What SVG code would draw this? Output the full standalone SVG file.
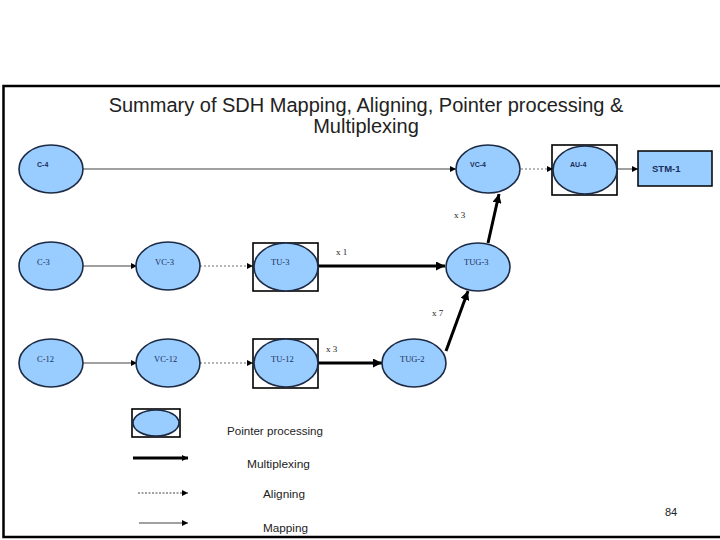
<svg xmlns="http://www.w3.org/2000/svg" width="720" height="540" viewBox="0 0 720 540">
<style>
.node{fill:#99ccff;stroke:#1c2a44;stroke-width:1.6}
.box{fill:none;stroke:#000;stroke-width:1.6}
.lblS{font-family:"Liberation Sans",Arial,sans-serif;font-size:7px;font-weight:bold;fill:#1a2f5a}
.lblT{font-family:"Liberation Serif","Times New Roman",serif;font-size:8.5px;fill:#1a2f5a}
.map{stroke:#a0a0a0;stroke-width:2;fill:none}
.aln{stroke:#a0a0a0;stroke-width:1.5;stroke-dasharray:2 2;fill:none}
.mux{stroke:#000;stroke-width:3;fill:none}
.mul{font-family:"Liberation Serif","Times New Roman",serif;font-size:9px;fill:#222}
.leg{font-family:"Liberation Sans",Arial,sans-serif;font-size:10.5px;fill:#222}
</style>
<defs>
<marker id="ah" viewBox="0 0 10 10" refX="10" refY="5" markerWidth="6" markerHeight="6" markerUnits="userSpaceOnUse" orient="auto"><path d="M0,0 L10,5 L0,10 z" fill="#000"/></marker>
<marker id="ahB" viewBox="0 0 10 10" refX="10" refY="5" markerWidth="9" markerHeight="9" markerUnits="userSpaceOnUse" orient="auto"><path d="M0,0 L10,5 L0,10 z" fill="#000"/></marker>
</defs>
<rect x="0" y="0" width="720" height="540" fill="#fff"/>
<path d="M724,86 H3.5 V537 H724" fill="none" stroke="#000" stroke-width="2.5"/>
<text x="366" y="112" text-anchor="middle" font-family="Liberation Sans,Arial,sans-serif" font-size="20" fill="#222">Summary of SDH Mapping, Aligning, Pointer processing &amp;</text>
<text x="366" y="133" text-anchor="middle" font-family="Liberation Sans,Arial,sans-serif" font-size="20" fill="#222">Multiplexing</text>

<g id="connectors">
<line class="map" x1="83" y1="169" x2="456" y2="169" marker-end="url(#ah)"/>
<line class="aln" x1="521" y1="169" x2="553" y2="169" marker-end="url(#ah)"/>
<line class="map" x1="617" y1="169" x2="638" y2="169" marker-end="url(#ah)"/>
<line class="map" x1="83" y1="266" x2="137" y2="266" marker-end="url(#ah)"/>
<line class="aln" x1="200" y1="266" x2="253" y2="266" marker-end="url(#ah)"/>
<line class="mux" x1="318" y1="266" x2="445" y2="266" marker-end="url(#ahB)"/>
<line class="mux" x1="488" y1="243" x2="499" y2="194" marker-end="url(#ahB)"/>
<line class="map" x1="83" y1="363" x2="137" y2="363" marker-end="url(#ah)"/>
<line class="aln" x1="200" y1="363" x2="253" y2="363" marker-end="url(#ah)"/>
<line class="mux" x1="318" y1="363" x2="382" y2="363" marker-end="url(#ahB)"/>
<line class="mux" x1="446" y1="351" x2="468" y2="291" marker-end="url(#ahB)"/>
<text class="mul" x="336" y="255">x 1</text>
<text class="mul" x="454" y="218">x 3</text>
<text class="mul" x="326" y="352">x 3</text>
<text class="mul" x="432" y="316">x 7</text>
</g>

<g id="C-4"><ellipse class="node" cx="51" cy="169" rx="32" ry="24"/><text class="lblS" x="37" y="167">C-4</text></g>
<g id="VC-4"><ellipse class="node" cx="488" cy="169" rx="32" ry="24"/><text class="lblS" x="470" y="167">VC-4</text></g>
<g id="AU-4"><rect class="box" x="552" y="145" width="65" height="50"/><ellipse class="node" cx="585" cy="170" rx="32" ry="24"/><text class="lblS" x="570" y="167">AU-4</text></g>
<g id="STM-1"><rect x="638" y="151" width="74" height="35" fill="#99ccff" stroke="#000" stroke-width="1.5"/><text class="lblS" x="652" y="172" style="font-size:9.5px">STM-1</text></g>

<g id="C-3"><ellipse class="node" cx="51" cy="266" rx="32" ry="24"/><text class="lblT" x="37" y="265">C-3</text></g>
<g id="VC-3"><ellipse class="node" cx="168" cy="266" rx="32" ry="24"/><text class="lblT" x="155" y="265">VC-3</text></g>
<g id="TU-3"><rect class="box" x="253" y="243" width="65" height="48"/><ellipse class="node" cx="286" cy="267" rx="32" ry="24"/><text class="lblT" x="271" y="265">TU-3</text></g>
<g id="TUG-3"><ellipse class="node" cx="478" cy="267" rx="32" ry="24"/><text class="lblT" x="464" y="265">TUG-3</text></g>

<g id="C-12"><ellipse class="node" cx="51" cy="363" rx="32" ry="24"/><text class="lblT" x="37" y="362">C-12</text></g>
<g id="VC-12"><ellipse class="node" cx="168" cy="363" rx="32" ry="24"/><text class="lblT" x="154" y="362">VC-12</text></g>
<g id="TU-12"><rect class="box" x="253" y="339" width="65" height="49"/><ellipse class="node" cx="286" cy="363" rx="32" ry="24"/><text class="lblT" x="271" y="362">TU-12</text></g>
<g id="TUG-2"><ellipse class="node" cx="414" cy="363" rx="32" ry="24"/><text class="lblT" x="400" y="362">TUG-2</text></g>

<g id="legend">
<rect class="box" x="132" y="409" width="48" height="28"/>
<ellipse class="node" cx="156" cy="423" rx="23" ry="13"/>
<text class="leg" x="227" y="435" textLength="96" lengthAdjust="spacingAndGlyphs">Pointer processing</text>
<line class="mux" x1="133" y1="458" x2="188" y2="458" stroke-width="2.5" marker-end="url(#ah)"/>
<text class="leg" x="247" y="468" textLength="63" lengthAdjust="spacingAndGlyphs">Multiplexing</text>
<line stroke="#444" stroke-width="1" stroke-dasharray="2 1.5" x1="138" y1="493" x2="188" y2="493" marker-end="url(#ah)"/>
<text class="leg" x="263" y="498" textLength="42" lengthAdjust="spacingAndGlyphs">Aligning</text>
<line class="map" x1="139" y1="523" x2="188" y2="523" marker-end="url(#ah)"/>
<text class="leg" x="263" y="532" textLength="45" lengthAdjust="spacingAndGlyphs">Mapping</text>
</g>
<text x="665" y="516" font-family="Liberation Sans,Arial,sans-serif" font-size="11" fill="#222">84</text>
</svg>
